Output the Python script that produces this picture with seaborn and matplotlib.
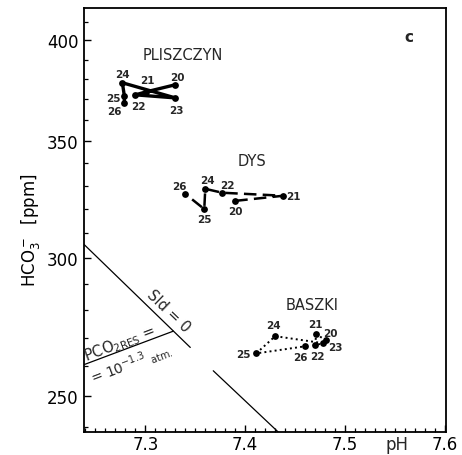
import numpy as np
import pandas as pd
import matplotlib
matplotlib.use("Agg")
import matplotlib.pyplot as plt
import seaborn as sns
from matplotlib.ticker import FixedLocator, NullFormatter, FixedFormatter

# ---------------- data ----------------
plis_day = [20, 21, 22, 23, 24, 25, 26]
plis_ph = [7.330, 7.301, 7.290, 7.330, 7.277, 7.279, 7.279]
plis_hco3 = [377.2, 373.7, 372.2, 370.7, 378.2, 371.7, 368.2]

dys_day = [20, 21, 22, 24, 25, 26]
dys_ph = [7.390, 7.438, 7.377, 7.360, 7.359, 7.340]
dys_hco3 = [323.5, 325.7, 327.0, 328.7, 320.0, 326.5]

bas_day = [20, 21, 22, 23, 24, 25, 26]
bas_ph = [7.481, 7.471, 7.470, 7.478, 7.430, 7.411, 7.460]
bas_hco3 = [269.0, 271.2, 267.3, 268.0, 270.5, 264.4, 266.9]

# reference lines
sid_ph_a = [7.2386, 7.345]
sid_hco3_a = [305.4, 266.5]
sid_ph_b = [7.368, 7.433]
sid_hco3_b = [258.4, 238.3]
pco_ph = [7.2386, 7.328]
pco_hco3 = [260.5, 272.3]

x_ticks = [7.3, 7.4, 7.5, 7.6]
y_ticks = [250, 300, 350, 400]

# label offsets (pixels) for day numbers
plis_off = [(2, 8), (1, 12), (3, -11), (1, -12), (0, 9), (-11, -2), (-10, -8)]
dys_off = [(0, -10), (10, 0), (5, 8), (2, 9), (0, -10), (-6, 8)]
bas_off = [(4, 7), (-1, 10), (2, -11), (12, -4), (-2, 11), (-13, -1), (-5, -11)]

# ---------------- figure ----------------
sns.set_theme(style="white")
plt.rcParams['font.family'] = ['DejaVu Sans']

fig = plt.figure(figsize=(4.62, 4.56), dpi=100)
ax = fig.add_axes([84/462, 23/456, 362/462, 424/456])
ax.set_yscale('log')

sites = [
    (plis_day, plis_ph, plis_hco3, plis_off, dict(linewidth=2.4, linestyle='-')),
    (dys_day, dys_ph, dys_hco3, dys_off, dict(linewidth=1.8, dashes=(5, 2.5))),
    (bas_day, bas_ph, bas_hco3, bas_off, dict(linewidth=1.4, linestyle=':')),
]
for day, ph, hc, off, st in sites:
    df = pd.DataFrame({"pH": ph, "HCO3": hc, "day": day})
    ls = st.pop('linestyle', None)
    dashes = st.pop('dashes', None)
    sns.lineplot(data=df, x="pH", y="HCO3", sort=False, estimator=None,
                 color='black', ax=ax, **st)
    l = ax.lines[-1]
    if dashes is not None:
        l.set_dashes(dashes)
    elif ls is not None:
        l.set_linestyle(ls)
    sns.scatterplot(data=df, x="pH", y="HCO3", color='black', s=24,
                    edgecolor='black', linewidth=0, ax=ax, zorder=3)
    for d, x, y, (dx, dy) in zip(day, ph, hc, off):
        ax.annotate(str(d), (x, y), xytext=(dx, dy), textcoords='offset pixels',
                    ha='center', va='center', fontsize=7.5, fontweight='bold')

# reference lines
ax.plot(sid_ph_a, sid_hco3_a, color='black', lw=0.9)
ax.plot(sid_ph_b, sid_hco3_b, color='black', lw=0.9)
ax.plot(pco_ph, pco_hco3, color='black', lw=0.9)

# texts
ax.text(7.338, 392.6, "PLISZCZYN", ha='center', va='center', fontsize=10.5)
ax.text(7.407, 341.2, "DYS", ha='center', va='center', fontsize=10.5)
ax.text(7.467, 281.9, "BASZKI", ha='center', va='center', fontsize=10.5)
ax.text(7.323, 280.0, "SId = 0", ha='center', va='center', fontsize=10.5,
        rotation=-44, rotation_mode='anchor')
ax.text(7.274, 268.0, r"PCO$_{\mathregular{2RES}}$ =", ha='center', va='center',
        fontsize=10.5, rotation=21, rotation_mode='anchor')
ax.text(7.286, 261.2, r"= 10$^{-1.3}$ $\mathregular{_{atm.}}$", ha='center', va='center',
        fontsize=10, rotation=21, rotation_mode='anchor')
ax.text(0.898, 0.932, "c", transform=ax.transAxes, ha='center', va='center',
        fontsize=11, fontweight='bold')
ax.text(7.552, -0.008, "pH", transform=ax.get_xaxis_transform(), ha='center',
        va='top', fontsize=12)

# axes
ax.set_xlim(7.2386, 7.601)
ax.set_ylim(238.3, 417.5)
ax.xaxis.set_major_locator(FixedLocator(x_ticks))
ax.xaxis.set_major_formatter(FixedFormatter([str(t) for t in x_ticks]))
ax.xaxis.set_minor_locator(FixedLocator(np.arange(7.24, 7.6, 0.01)))
ax.yaxis.set_major_locator(FixedLocator(y_ticks))
ax.yaxis.set_major_formatter(FixedFormatter([str(t) for t in y_ticks]))
ax.yaxis.set_minor_locator(FixedLocator(np.arange(240, 420, 10)))
ax.yaxis.set_minor_formatter(NullFormatter())
ax.tick_params(axis='both', which='major', direction='in', length=5, width=1.0,
               labelsize=12, pad=4, colors='black', left=True, bottom=True)
ax.tick_params(axis='both', which='minor', direction='in', length=3, width=0.9,
               left=True, bottom=True, colors='black')
ax.tick_params(axis='x', which='major', pad=2)
for s in ax.spines.values():
    s.set_color('black')
    s.set_linewidth(1.3)
ax.set_xlabel("")
ax.set_ylabel(r"HCO$_3^-$  [ppm]", fontsize=12, color='black')
ax.yaxis.set_label_coords(-0.115, 0.479)

fig.savefig("out.png", dpi=100)
